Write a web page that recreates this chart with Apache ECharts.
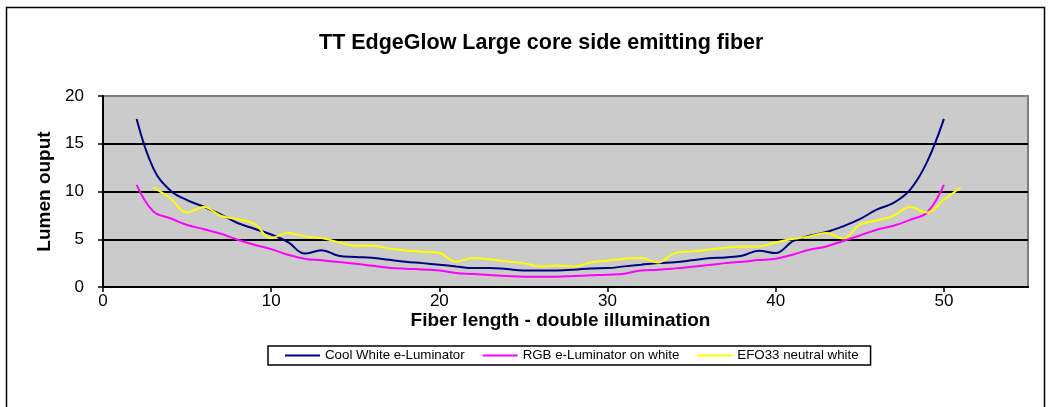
<!DOCTYPE html>
<html>
<head>
<meta charset="utf-8">
<script src="https://cdn.jsdelivr.net/npm/echarts@6/dist/echarts.min.js"></script>
<style>
html,body{margin:0;padding:0;background:#fff;}
#c{width:1049px;height:407px;}
</style>
</head>
<body>
<div id="c"></div>
<script>
const titleText = "TT EdgeGlow Large core side emitting fiber";
const xName = "Fiber length - double illumination";
const yName = "Lumen ouput";
const seriesNames = ["Cool White e-Luminator", "RGB e-Luminator on white", "EFO33 neutral white"];
const xTicks = [0,10,20,30,40,50];

const coolX = [2,3,4,5,6,7,8,9,10,11,12,13,14,15,16,17,18,19,20,21,22,23,24,25,26,27,28,29,30,31,32,33,34,35,36,37,38,39,40,41,42,43,44,45,46,47,48,49,50];
const coolY = [17.6,12.4,10.1,9.1,8.4,7.6,6.7,6.1,5.5,4.7,3.5,3.85,3.27,3.14,3.06,2.85,2.65,2.5,2.33,2.15,1.98,2.0,1.88,1.74,1.74,1.74,1.81,1.95,1.98,2.16,2.33,2.5,2.6,2.79,3.0,3.1,3.27,3.8,3.55,4.77,5.37,5.75,6.35,7.1,8.1,8.8,10.2,13.1,17.6];

const rgbX = [2,3,4,5,6,7,8,9,10,11,12,13,14,15,16,17,18,19,20,21,22,23,24,25,26,27,28,29,30,31,32,33,34,35,36,37,38,39,40,41,42,43,44,45,46,47,48,49,50];
const rgbY = [10.7,7.9,7.2,6.5,6.05,5.57,4.95,4.42,3.97,3.38,2.96,2.79,2.61,2.44,2.23,2.02,1.91,1.84,1.74,1.46,1.36,1.25,1.15,1.08,1.08,1.08,1.15,1.22,1.29,1.39,1.74,1.81,1.95,2.12,2.3,2.5,2.65,2.82,2.96,3.38,3.9,4.25,4.82,5.4,6.0,6.41,7.04,7.8,10.7];

const efoX = [3,4,5,6,7,8,9,10,11,12,13,14,15,16,17,18,19,20,21,22,23,24,25,26,27,28,29,30,31,32,33,34,35,36,37,38,39,40,41,42,43,44,45,46,47,48,49,50,51];
const efoY = [10.4,9.3,7.8,8.37,7.46,7.1,6.6,5.13,5.65,5.3,5.12,4.7,4.32,4.32,4.04,3.83,3.69,3.55,2.65,3.03,2.9,2.68,2.5,2.15,2.26,2.15,2.57,2.75,2.96,3.03,2.57,3.55,3.73,3.9,4.11,4.25,4.25,4.67,5.02,5.3,5.65,5.07,6.52,6.97,7.46,8.37,7.8,9.13,10.42];

const colors = ["#000080", "#FF00FF", "#FFFF00"];

function pairs(xs, ys){ return xs.map((x,i)=>[x, ys[i]]); }

const chart = echarts.init(document.getElementById('c'), null, {renderer:'canvas'});
const font = "Liberation Sans, Arial, sans-serif";

chart.setOption({
  animation:false,
  backgroundColor:'#ffffff',
  graphic:[{
    type:'rect', silent:true, z:-10,
    shape:{x:6.5, y:7.5, width:1038, height:420},
    style:{fill:'none', stroke:'#000', lineWidth:1.5}
  }],
  title:{
    text:titleText, left:314, top:27,
    textStyle:{fontFamily:font, fontSize:21.5, fontWeight:'bold', color:'#000'}
  },
  legend:{
    left:268, top:346,
    padding:[3,12,3,17],
    borderColor:'#000', borderWidth:1.5,
    itemGap:18, itemWidth:35, itemHeight:2,
    icon:'rect',
    textStyle:{fontFamily:font, fontSize:13.3, color:'#000'},
    data:seriesNames
  },
  grid:{
    left:103, top:96, width:925, height:191,
    show:true, backgroundColor:'#CBCBCB', borderColor:'#808080', borderWidth:2
  },
  xAxis:{
    type:'value', min:0, max:55,
    name:xName, nameLocation:'middle', nameGap:21,
    nameTextStyle:{fontFamily:font, fontSize:19, fontWeight:'bold', color:'#000', verticalAlign:'top', padding:[0,10,0,0]},
    axisLine:{show:true, onZero:false, lineStyle:{color:'#000', width:2}},
    axisTick:{show:true, inside:false, length:5, customValues:xTicks, lineStyle:{color:'#000', width:1.5}},
    axisLabel:{fontFamily:font, fontSize:17, color:'#000', margin:6, customValues:xTicks},
    splitLine:{show:false}
  },
  yAxis:{
    type:'value', min:0, max:20, interval:5,
    name:yName, nameLocation:'middle', nameGap:46, nameRotate:90,
    nameTextStyle:{fontFamily:font, fontSize:19, fontWeight:'bold', color:'#000'},
    axisLine:{show:true, onZero:false, lineStyle:{color:'#000', width:2}},
    axisTick:{show:true, inside:false, length:5, lineStyle:{color:'#000', width:1.5}},
    axisLabel:{fontFamily:font, fontSize:17, color:'#000', margin:19},
    splitLine:{show:true, showMinLine:false, showMaxLine:false, lineStyle:{color:'#000', width:2}}
  },
  series:[
    {name:seriesNames[0], type:'line', data:pairs(coolX, coolY), smooth:0.4, symbol:'none',
     lineStyle:{color:colors[0], width:2}, itemStyle:{color:colors[0]}, z:3},
    {name:seriesNames[1], type:'line', data:pairs(rgbX, rgbY), smooth:0.4, symbol:'none',
     lineStyle:{color:colors[1], width:2}, itemStyle:{color:colors[1]}, z:2},
    {name:seriesNames[2], type:'line', data:pairs(efoX, efoY), smooth:0.4, symbol:'none',
     lineStyle:{color:colors[2], width:2}, itemStyle:{color:colors[2]}, z:4}
  ]
});
</script>
</body>
</html>
